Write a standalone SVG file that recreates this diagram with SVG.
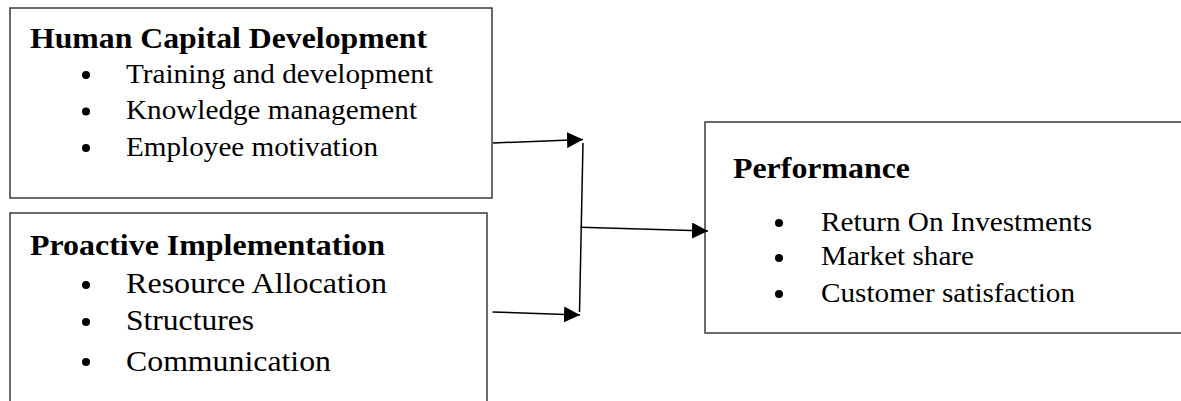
<svg xmlns="http://www.w3.org/2000/svg" width="1181" height="401" viewBox="0 0 1181 401">
<style>
.box{fill:#fff;stroke:#3a3a3a;stroke-width:1.5}
.h{font-family:"Liberation Serif","Times New Roman",serif;font-weight:bold;font-size:29px;fill:#000}
.t{font-family:"Liberation Serif","Times New Roman",serif;font-size:26.5px;fill:#000}
.t2{font-family:"Liberation Serif","Times New Roman",serif;font-size:29px;fill:#000}
.b{fill:#000}
.c{stroke:#000;stroke-width:1.5;fill:none}
</style>
<defs>
<marker id="ah" viewBox="0 0 16 16" refX="16" refY="8" markerWidth="16" markerHeight="16" markerUnits="userSpaceOnUse" orient="auto">
<path d="M0,0 L16,8 L0,16 Z" fill="#000"/>
</marker>
</defs>
<rect width="1181" height="401" fill="#fff"/>
<g id="human-capital">
<rect class="box" x="10" y="8" width="482" height="190"/>
<text class="h" x="30" y="47.5" textLength="397" lengthAdjust="spacingAndGlyphs">Human Capital Development</text>
<circle class="b" cx="86" cy="75" r="4"/>
<text class="t" x="126" y="83" textLength="307" lengthAdjust="spacingAndGlyphs">Training and development</text>
<circle class="b" cx="86" cy="111.5" r="4"/>
<text class="t" x="126" y="119" textLength="291" lengthAdjust="spacingAndGlyphs">Knowledge management</text>
<circle class="b" cx="86" cy="148" r="4"/>
<text class="t" x="126" y="155.5" textLength="252" lengthAdjust="spacingAndGlyphs">Employee motivation</text>
</g>
<g id="proactive">
<rect class="box" x="10" y="213" width="477" height="200"/>
<text class="h" x="30" y="255" textLength="355" lengthAdjust="spacingAndGlyphs">Proactive Implementation</text>
<circle class="b" cx="86" cy="285" r="4"/>
<text class="t2" x="126" y="293" textLength="261" lengthAdjust="spacingAndGlyphs">Resource Allocation</text>
<circle class="b" cx="86" cy="322" r="4"/>
<text class="t2" x="126" y="330" textLength="128" lengthAdjust="spacingAndGlyphs">Structures</text>
<circle class="b" cx="86" cy="362" r="4"/>
<text class="t2" x="126" y="370.5" textLength="205" lengthAdjust="spacingAndGlyphs">Communication</text>
</g>
<g id="performance">
<rect class="box" x="705" y="122" width="490" height="211"/>
<text class="h" x="733" y="178" textLength="177" lengthAdjust="spacingAndGlyphs">Performance</text>
<circle class="b" cx="779" cy="223" r="4"/>
<text class="t" x="821" y="230.5" textLength="271" lengthAdjust="spacingAndGlyphs">Return On Investments</text>
<circle class="b" cx="779" cy="258" r="4"/>
<text class="t" x="821" y="265" textLength="153" lengthAdjust="spacingAndGlyphs">Market share</text>
<circle class="b" cx="779" cy="294" r="4"/>
<text class="t" x="821" y="301.5" textLength="254" lengthAdjust="spacingAndGlyphs">Customer satisfaction</text>
</g>
<g id="connectors">
<line class="c" x1="493" y1="143" x2="583" y2="139.5" marker-end="url(#ah)"/>
<line class="c" x1="583" y1="143" x2="579.5" y2="312"/>
<line class="c" x1="492.5" y1="312" x2="580" y2="315" marker-end="url(#ah)"/>
<line class="c" x1="580.5" y1="227.3" x2="708" y2="231" marker-end="url(#ah)"/>
</g>
</svg>
